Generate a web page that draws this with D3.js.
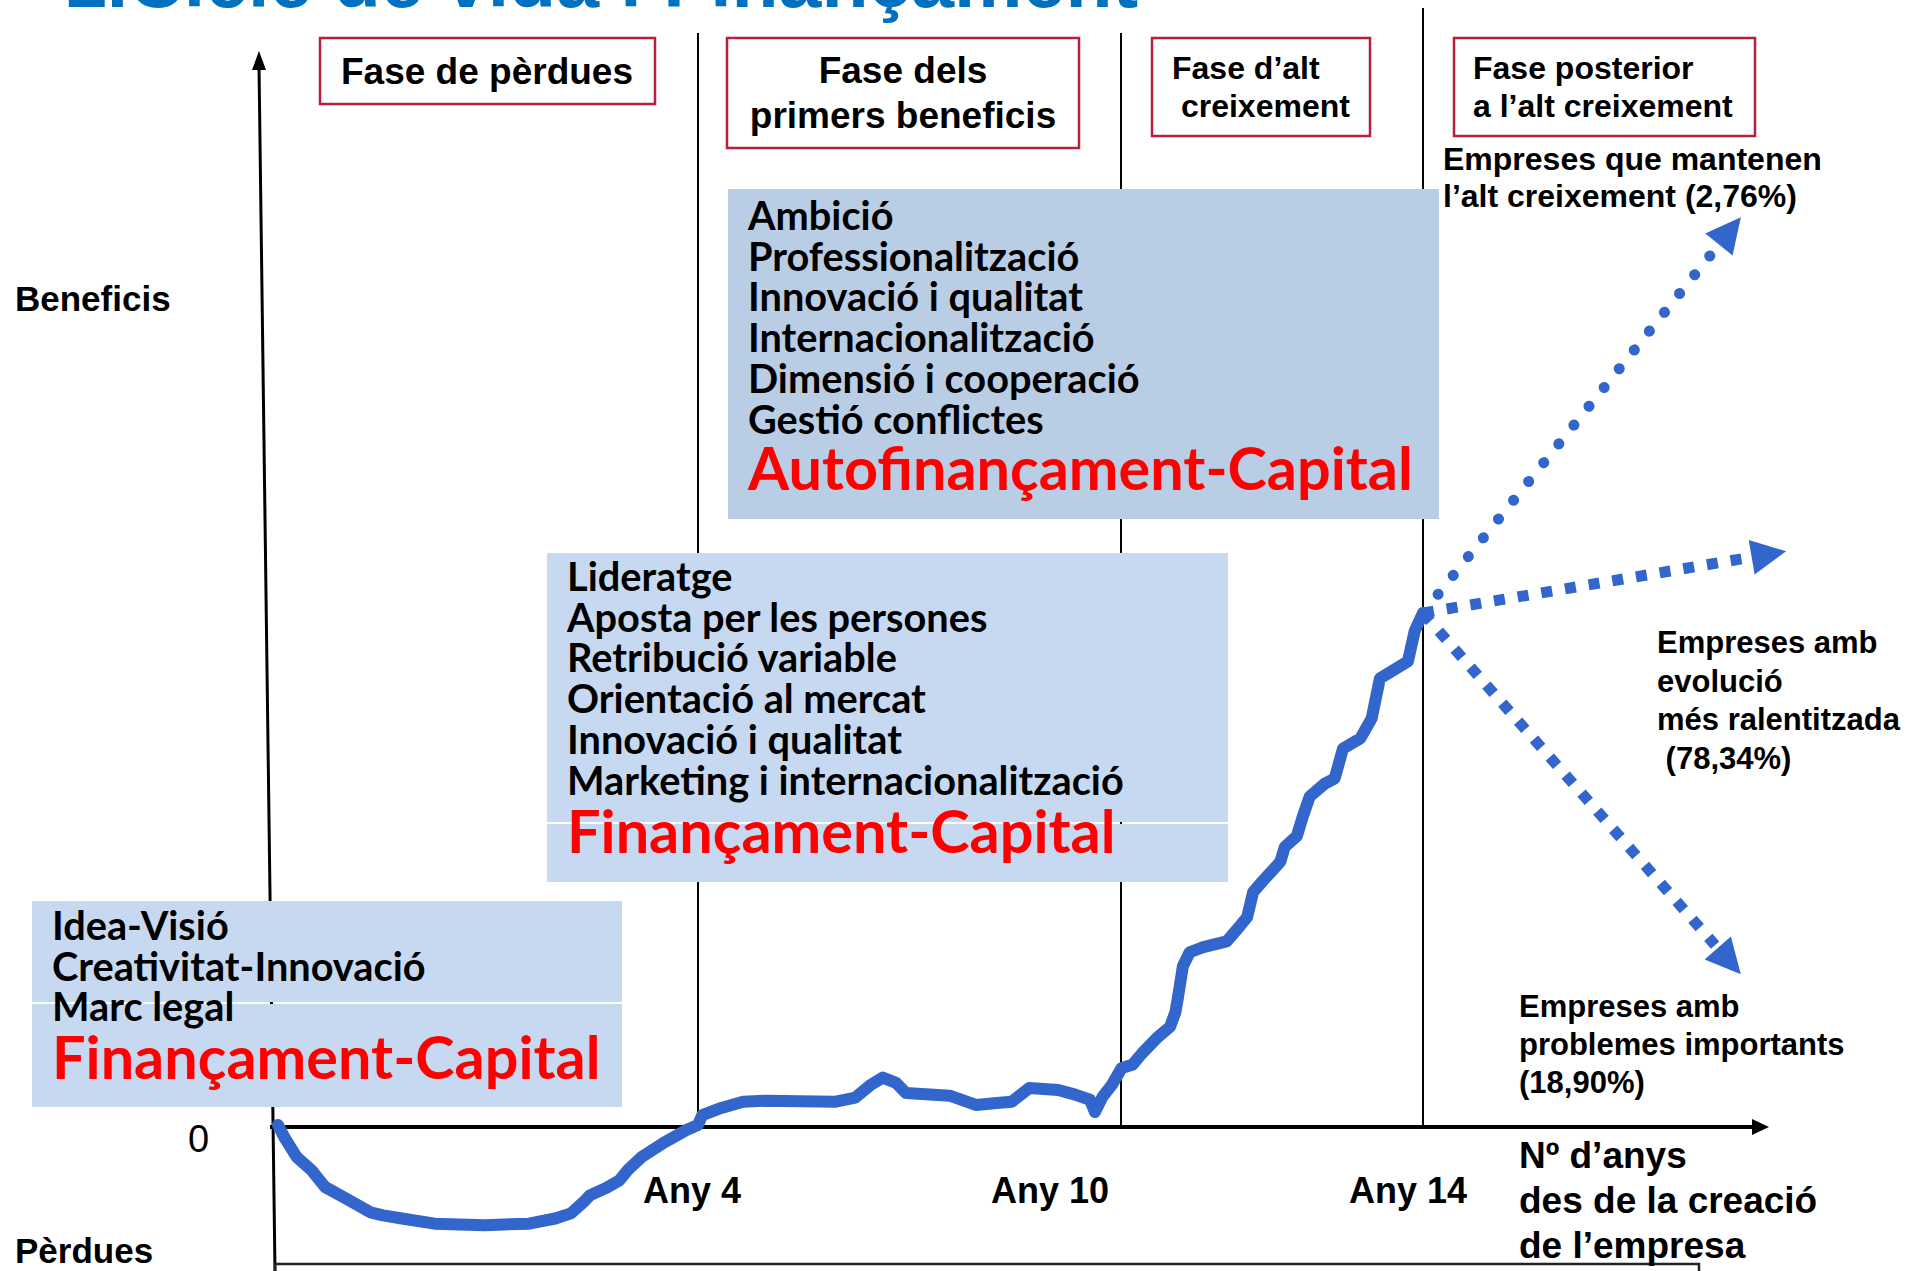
<!DOCTYPE html>
<html>
<head>
<meta charset="utf-8">
<script src="https://cdn.jsdelivr.net/npm/d3@7"></script>
<style>
  body { margin: 0; background: #fff; }
  svg { display: block; }
</style>
</head>
<body>
<div id="chart"></div>
<script>

// curve: years since creation / relative profit (0 = break even, 100 = level at year 14)
const years = [0, 0.06, 0.18, 0.32, 0.45, 0.63, 0.88, 1.0, 1.18, 1.49,
  1.97, 2.39, 2.64, 2.79, 2.91, 2.97, 3.12, 3.25, 3.33, 3.46,
  3.67, 3.89, 4.0, 4.06, 4.33, 4.64, 4.95, 5.94, 6.23, 6.45,
  6.62, 6.81, 6.95, 7.57, 7.94, 8.28, 8.45, 8.70, 9.11, 9.35,
  9.56, 9.63, 9.74, 9.87, 10.01, 10.15, 10.29, 10.48, 10.65, 10.72,
  10.75, 10.82, 10.91, 11.09, 11.40, 11.54, 11.67, 11.75, 11.88, 12.11,
  12.17, 12.33, 12.41, 12.50, 12.70, 12.83, 12.94, 13.17, 13.32, 13.43,
  13.80, 13.89, 14.0];
const profit = [0.4, -2.0, -5.9, -8.4, -11.7, -13.7, -16.6, -17.2, -17.8, -18.8,
  -19.1, -18.8, -17.8, -16.8, -14.6, -13.3, -11.9, -10.4, -8.4, -5.9,
  -3.1, -0.6, 0.4, 2.3, 3.7, 4.9, 5.1, 4.9, 5.7, 8.2,
  9.6, 8.6, 6.6, 6.1, 4.3, 4.7, 4.9, 7.6, 7.2, 6.3,
  5.3, 2.9, 5.9, 8.2, 11.5, 12.1, 14.5, 17.4, 19.5, 22.3,
  24.8, 31.3, 34.0, 35.0, 36.1, 38.5, 40.8, 45.7, 47.9, 51.6,
  54.5, 56.6, 60.5, 64.3, 66.8, 67.8, 73.6, 75.6, 79.5, 87.3,
  90.6, 96.5, 100];

const tickYears = [4, 10, 14];
const tickLabels = ["Any 4", "Any 10", "Any 14"];
const phaseYears = [4, 10, 14];
const phaseNames = [
  ["Fase de pèrdues"],
  ["Fase dels", "primers beneficis"],
  ["Fase d’alt", " creixement"],
  ["Fase posterior", "a l’alt creixement"]
];

// three possible paths after year 14
const branchYears = [18.21, 18.81, 18.21];
const branchValues = [177, 112, 29.7];
const branchTexts = [
  ["Empreses que mantenen", "l’alt creixement (2,76%)"],
  ["Empreses amb", "evolució", "més ralentitzada", " (78,34%)"],
  ["Empreses amb", "problemes importants", "(18,90%)"]
];

const factorsStart = ["Idea-Visió", "Creativitat-Innovació", "Marc legal"];
const factorsGrowth = ["Lideratge", "Aposta per les persones", "Retribució variable",
  "Orientació al mercat", "Innovació i qualitat", "Marketing i internacionalització"];
const factorsHigh = ["Ambició", "Professionalització", "Innovació i qualitat",
  "Internacionalització", "Dimensió i cooperació", "Gestió conflictes"];
const financing = ["Finançament-Capital", "Finançament-Capital", "Autofinançament-Capital"];

const axisTitleY = ["Beneficis", "Pèrdues"];
const axisTitleX = ["Nº d’anys", "des de la creació", "de l’empresa"];
const titleText = "1.Cicle de vida i Finançament";

// ---------------------------------------------------------------

const width = 1910, height = 1271;
const sans = "'Liberation Sans', Arial, Helvetica, sans-serif";
const calibri = "Lato, 'Open Sans', sans-serif";
const blue = "#3366CC";
const boxRed = "#B8203A";

const svg = d3.select("#chart")
  .append("svg")
  .attr("width", width)
  .attr("height", height);

const x = d3.scaleLinear().domain([0, 4, 10, 14]).range([278, 698, 1121, 1423]);
const y = d3.scaleLinear().domain([0, 100]).range([1127, 613]);

// phase separators
const phaseTop = [33, 33, 8];
svg.selectAll(".phase-line")
  .data(phaseYears)
  .join("line")
  .attr("x1", d => x(d))
  .attr("x2", d => x(d))
  .attr("y1", (d, i) => phaseTop[i])
  .attr("y2", y(0))
  .attr("stroke", "#000")
  .attr("stroke-width", 2);

// y axis (slightly tilted like the original)
svg.append("line")
  .attr("x1", 259).attr("y1", 66)
  .attr("x2", 275).attr("y2", height)
  .attr("stroke", "#000")
  .attr("stroke-width", 3);
svg.append("path")
  .attr("d", "M259,51 L252,70 L266,70 Z")
  .attr("fill", "#000");

// x axis
svg.append("line")
  .attr("x1", 270).attr("y1", y(0))
  .attr("x2", 1755).attr("y2", y(0))
  .attr("stroke", "#000")
  .attr("stroke-width", 4);
svg.append("path")
  .attr("d", `M1769,${y(0)} L1752,${y(0) - 8} L1752,${y(0) + 8} Z`)
  .attr("fill", "#000");

// frame at the bottom
svg.append("path")
  .attr("d", "M275,1271 V1264 H1699 V1271")
  .attr("fill", "none")
  .attr("stroke", "#222")
  .attr("stroke-width", 2.5);

// measure fonts so the Calibri-like text keeps its width
function fitSize(txt, family, target) {
  const t = svg.append("text")
    .attr("font-family", family)
    .attr("font-weight", "bold")
    .attr("font-size", 40)
    .text(txt);
  const w = t.node().getComputedTextLength();
  t.remove();
  return 40 * target / w;
}
const blackSize = fitSize("Marketing i internacionalització", calibri, 557);
const redSize = fitSize("Autofinançament-Capital", calibri, 665);

// factor boxes
const boxes = [
  { lines: factorsHigh, money: financing[2], x: 728, y: 189, w: 711, h: 330, gap: null, fill: "#B9CDE5", tx: 748, ty: 230, my: 490 },
  { lines: factorsGrowth, money: financing[1], x: 547, y: 553, w: 681, h: 329, gap: 823, fill: "#C6D9F1", tx: 567, ty: 591, my: 853 },
  { lines: factorsStart, money: financing[0], x: 32, y: 901, w: 590, h: 206, gap: 1003, fill: "#C6D9F1", tx: 52, ty: 940, my: 1079 }
];

boxes.forEach(b => {
  const g = svg.append("g");
  if (b.gap) {
    g.append("rect").attr("x", b.x).attr("y", b.y).attr("width", b.w).attr("height", b.gap - 1 - b.y).attr("fill", b.fill);
    g.append("rect").attr("x", b.x).attr("y", b.gap + 1).attr("width", b.w).attr("height", b.y + b.h - b.gap - 1).attr("fill", b.fill);
  } else {
    g.append("rect").attr("x", b.x).attr("y", b.y).attr("width", b.w).attr("height", b.h).attr("fill", b.fill);
  }
  g.selectAll(".factor")
    .data(b.lines)
    .join("text")
    .attr("x", b.tx)
    .attr("y", (d, i) => b.ty + i * 40.7)
    .attr("font-family", calibri)
    .attr("font-weight", "bold")
    .attr("font-size", blackSize)
    .attr("fill", "#000")
    .text(d => d);
  g.append("text")
    .attr("x", b.tx)
    .attr("y", b.my)
    .attr("font-family", calibri)
    .attr("font-weight", "bold")
    .attr("font-size", redSize)
    .attr("fill", "#FF0000")
    .text(b.money);
});

// the life cycle curve
const lineGenerator = d3.line()
  .x(d => x(d[0]))
  .y(d => y(d[1]));

svg.append("path")
  .attr("d", lineGenerator(d3.zip(years, profit)))
  .attr("fill", "none")
  .attr("stroke", blue)
  .attr("stroke-width", 12)
  .attr("stroke-linejoin", "round")
  .attr("stroke-linecap", "round");

// branches
const branchDash = ["0.1 24", "11 13", "11 13"];
const branchCap = ["round", "butt", "butt"];
const ox = x(14), oy = y(100);
const headLen = 35, headHalf = 17.5;

branchYears.forEach((by, i) => {
  const tx = x(by), ty = y(branchValues[i]);
  const dx = tx - ox, dy = ty - oy;
  const len = Math.hypot(dx, dy);
  const ux = dx / len, uy = dy / len;
  const bx = tx - ux * headLen, by2 = ty - uy * headLen;
  svg.append("line")
    .attr("x1", ox).attr("y1", oy)
    .attr("x2", bx - ux * 4).attr("y2", by2 - uy * 4)
    .attr("stroke", blue)
    .attr("stroke-width", 11)
    .attr("stroke-linecap", branchCap[i])
    .attr("stroke-dasharray", branchDash[i]);
  svg.append("path")
    .attr("d", `M${tx},${ty} L${bx - uy * headHalf},${by2 + ux * headHalf} L${bx + uy * headHalf},${by2 - ux * headHalf} Z`)
    .attr("fill", blue);
});

// phase labels
const phaseBoxes = [
  { x: 320, y: 38, w: 335, h: 66, anchor: "middle", tx: [487], ty: [84], size: 37 },
  { x: 727, y: 38, w: 352, h: 110, anchor: "middle", tx: [903, 903], ty: [83, 128], size: 37 },
  { x: 1152, y: 38, w: 218, h: 98, anchor: "start", tx: [1172, 1172], ty: [79, 117], size: 32 },
  { x: 1454, y: 38, w: 301, h: 98, anchor: "start", tx: [1473, 1473], ty: [79, 117], size: 32 }
];

phaseBoxes.forEach((p, i) => {
  svg.append("rect")
    .attr("x", p.x).attr("y", p.y)
    .attr("width", p.w).attr("height", p.h)
    .attr("fill", "#fff")
    .attr("stroke", boxRed)
    .attr("stroke-width", 2.5);
  phaseNames[i].forEach((t, j) => {
    svg.append("text")
      .attr("x", p.tx[j])
      .attr("y", p.ty[j])
      .attr("text-anchor", p.anchor)
      .attr("font-family", sans)
      .attr("font-weight", "bold")
      .attr("font-size", p.size)
      .style("white-space", "pre")
      .text(t);
  });
});

// branch texts
const branchTextPos = [
  { x: 1443, y: 170, step: 37, size: 32 },
  { x: 1657, y: 653, step: 38.5, size: 31 },
  { x: 1519, y: 1017, step: 38, size: 31 }
];
branchTexts.forEach((lines, i) => {
  const p = branchTextPos[i];
  svg.selectAll(null)
    .data(lines)
    .join("text")
    .attr("x", p.x)
    .attr("y", (d, j) => p.y + j * p.step)
    .attr("font-family", sans)
    .attr("font-weight", "bold")
    .attr("font-size", p.size)
    .style("white-space", "pre")
    .text(d => d);
});

// x tick labels
const tickShift = [-6, -71, -15];
svg.selectAll(".tick-label")
  .data(tickYears)
  .join("text")
  .attr("x", (d, i) => x(d) + tickShift[i])
  .attr("y", 1203)
  .attr("text-anchor", "middle")
  .attr("font-family", sans)
  .attr("font-weight", "bold")
  .attr("font-size", 36)
  .text((d, i) => tickLabels[i]);

// x axis title
svg.selectAll(".x-title")
  .data(axisTitleX)
  .join("text")
  .attr("x", 1519)
  .attr("y", (d, i) => 1168 + i * 45)
  .attr("font-family", sans)
  .attr("font-weight", "bold")
  .attr("font-size", 37)
  .text(d => d);

// y axis titles
svg.append("text")
  .attr("x", 15).attr("y", 311)
  .attr("font-family", sans).attr("font-weight", "bold").attr("font-size", 35)
  .text(axisTitleY[0]);
svg.append("text")
  .attr("x", 15).attr("y", 1263)
  .attr("font-family", sans).attr("font-weight", "bold").attr("font-size", 35)
  .text(axisTitleY[1]);
svg.append("text")
  .attr("x", 188).attr("y", y(0) + 25)
  .attr("font-family", sans).attr("font-size", 38)
  .text("0");

// title, cut by the top edge
svg.append("text")
  .attr("x", 64).attr("y", 7)
  .attr("font-family", sans)
  .attr("font-weight", "bold")
  .attr("font-size", 77)
  .attr("fill", "#0070C0")
  .text(titleText);

</script>
</body>
</html>
